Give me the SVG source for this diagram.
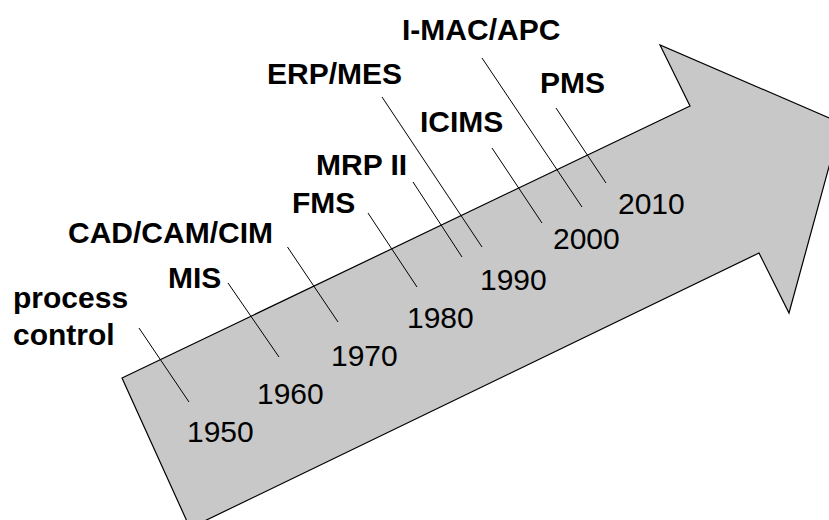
<svg xmlns="http://www.w3.org/2000/svg" width="829" height="520" viewBox="0 0 829 520">
  <style>
    .arrow { fill: #c8c8c8; stroke: #000; stroke-width: 1.2; stroke-linejoin: miter; }
    .lead { stroke: #000; stroke-width: 1; fill: none; }
    .lbl { font-family: "Liberation Sans", Arial, sans-serif; font-size: 30px; font-weight: bold; fill: #000; }
    .yr { font-family: "Liberation Sans", Arial, sans-serif; font-size: 30px; fill: #000; }
  </style>
  <rect width="829" height="520" fill="#fff"/>

  <!-- timeline arrow -->
  <g id="timeline-arrow">
    <polygon class="arrow" points="122,378 690,106 660,45 841,123 789,313 759,253 190,528"/>
  </g>

  <!-- leader lines from labels to years -->
  <g id="connectors">
    <line class="lead" x1="139" y1="328" x2="189" y2="402"/>
    <line class="lead" x1="228" y1="283" x2="279" y2="357"/>
    <line class="lead" x1="287.5" y1="247" x2="338" y2="322"/>
    <line class="lead" x1="368" y1="213" x2="417" y2="287"/>
    <line class="lead" x1="413" y1="182" x2="462" y2="257"/>
    <line class="lead" x1="382" y1="97" x2="482" y2="247"/>
    <line class="lead" x1="492" y1="148" x2="542" y2="223"/>
    <line class="lead" x1="482" y1="58" x2="582" y2="207"/>
    <line class="lead" x1="556" y1="108" x2="606" y2="183"/>
  </g>

  <g id="y1950"><text class="yr" x="187" y="442">1950</text></g>
  <g id="y1960"><text class="yr" x="257" y="404">1960</text></g>
  <g id="y1970"><text class="yr" x="331" y="366">1970</text></g>
  <g id="y1980"><text class="yr" x="407" y="328">1980</text></g>
  <g id="y1990"><text class="yr" x="480" y="290">1990</text></g>
  <g id="y2000"><text class="yr" x="553" y="249">2000</text></g>
  <g id="y2010"><text class="yr" x="618" y="214">2010</text></g>

  <g id="process-control">
    <text class="lbl" x="13" y="308">process</text>
    <text class="lbl" x="13" y="345">control</text>
  </g>
  <g id="mis"><text class="lbl" x="168" y="288">MIS</text></g>
  <g id="cad-cam-cim"><text class="lbl" x="68" y="243">CAD/CAM/CIM</text></g>
  <g id="fms"><text class="lbl" x="292" y="213">FMS</text></g>
  <g id="mrp2"><text class="lbl" x="316" y="175">MRP II</text></g>
  <g id="erp-mes"><text class="lbl" x="267" y="84">ERP/MES</text></g>
  <g id="icims"><text class="lbl" x="420" y="132">ICIMS</text></g>
  <g id="imac-apc"><text class="lbl" x="402" y="40">I-MAC/APC</text></g>
  <g id="pms"><text class="lbl" x="540" y="93">PMS</text></g>
</svg>
